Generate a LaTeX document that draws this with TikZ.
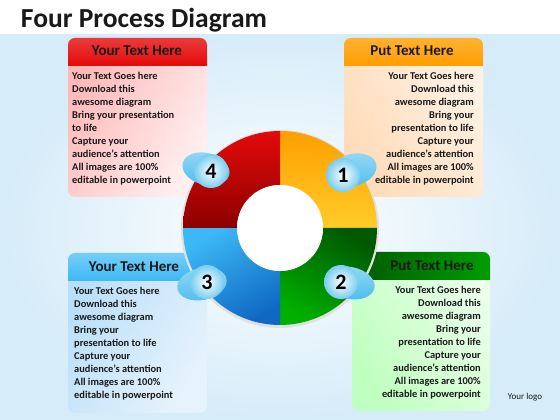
\documentclass[tikz,border=0pt]{standalone}
\usepackage{fontspec}
\setmainfont{Carlito}
\usetikzlibrary{positioning}

\definecolor{bgblue}{RGB}{214,236,249}
\definecolor{redtop}{RGB}{228,10,10}
\definecolor{redbot}{RGB}{140,0,0}
\definecolor{orgtop}{RGB}{255,158,0}
\definecolor{orgbot}{RGB}{255,204,40}
\definecolor{grntop}{RGB}{0,88,0}
\definecolor{grnbot}{RGB}{0,175,0}
\definecolor{blutop}{RGB}{60,185,245}
\definecolor{blubot}{RGB}{15,105,195}
\definecolor{blobblue}{RGB}{80,190,238}
\definecolor{badgeblue}{RGB}{120,205,240}
\definecolor{bluebody}{RGB}{185,222,248}
\definecolor{textdark}{RGB}{25,25,25}

\tikzset{
  headtext/.style={font=\fontsize{15}{17}\selectfont\bfseries, text=textdark, inner sep=0pt},
  bodytext/.style={font=\fontsize{10.4}{13}\selectfont\bfseries, text=textdark, inner sep=0pt},
  blob/.style={top color=blobblue!60, bottom color=blobblue},
  badge/.style={circle, minimum size=34pt, inner sep=0pt, shade, inner color=white,
    outer color=badgeblue, font=\fontsize{22}{22}\selectfont\bfseries, text=black},
}

\begin{document}
\begin{tikzpicture}[x=1pt,y=1pt]
    \useasboundingbox (0,0) rectangle (560,420);

    % Background
    \shade[inner color=white, outer color=bgblue] (0,0) rectangle (560,388);
    \fill[white] (0,386) rectangle (560,420);
    \node[font=\fontsize{27.5}{30}\selectfont\bfseries, text=textdark] (title) at (144,400) {Four Process Diagram};
    \node[font=\fontsize{9}{10}\selectfont, text=textdark] (logo) at (525,23) {Your logo};

    % Red box (4)
    \shade[rounded corners=7pt, left color=red!28, right color=red!6, shading angle=60] (68,223) rectangle (207,382);
    \shade[top color=redtop!80, bottom color=redtop] (68,354) [rounded corners=7pt] -- (68,382) -- (207,382) [sharp corners] -- (207,354) -- cycle;
    \node[headtext] (head4) at (137,369) {Your Text Here};
    \node[bodytext, anchor=north west, align=left] (text4) at (72,348)
      {Your Text Goes here\\Download this\\awesome diagram\\Bring your presentation\\to life\\Capture your\\audience’s attention\\All images are 100\%\\editable in powerpoint};

    % Yellow box (1)
    \shade[rounded corners=7pt, left color=orange!10, right color=orange!28, shading angle=-60] (344,223) rectangle (483,382);
    \shade[top color=orgtop!80!white, bottom color=orgtop] (344,354) [rounded corners=7pt] -- (344,382) -- (483,382) [sharp corners] -- (483,354) -- cycle;
    \node[headtext] (head1) at (412,369) {Put Text Here};
    \node[bodytext, anchor=north east, align=right] (text1) at (474,348)
      {Your Text Goes here\\Download this\\awesome diagram\\Bring your\\presentation to life\\Capture your\\audience’s attention\\All images are 100\%\\editable in powerpoint};

    % Blue box (3)
    \shade[rounded corners=7pt, left color=bluebody, right color=bluebody!35, shading angle=60] (68,7) rectangle (207,167);
    \shade[top color=blutop!70!white, bottom color=blutop] (68,139) [rounded corners=7pt] -- (68,167) -- (207,167) [sharp corners] -- (207,139) -- cycle;
    \node[headtext] (head3) at (134,153) {Your Text Here};
    \node[bodytext, anchor=north west, align=left] (text3) at (74,133)
      {Your Text Goes here\\Download this\\awesome diagram\\Bring your\\presentation to life\\Capture your\\audience’s attention\\All images are 100\%\\editable in powerpoint};

    % Green box (2)
    \shade[rounded corners=7pt, left color=green!8, right color=green!25, shading angle=-60] (352,9) rectangle (490,168);
    \shade[left color=grntop, right color=grnbot!90!black] (352,140) [rounded corners=7pt] -- (352,168) -- (490,168) [sharp corners] -- (490,140) -- cycle;
    \node[headtext] (head2) at (432,154) {Put Text Here};
    \node[bodytext, anchor=north east, align=right] (text2) at (481,134)
      {Your Text Goes here\\Download this\\awesome diagram\\Bring your\\presentation to life\\Capture your\\audience’s attention\\All images are 100\%\\editable in powerpoint};

    % Ring
    \fill[black!12] (280,191) circle (99);
    \shade[top color=orgtop, bottom color=orgbot] (377,192) arc (0:90:97) -- (280,235) arc (90:0:43) -- cycle;
    \shade[top color=grntop, bottom color=grnbot, shading angle=-30] (280,95) arc (270:360:97) -- (323,192) arc (0:-90:43) -- cycle;
    \shade[top color=blutop, bottom color=blubot, shading angle=30] (183,192) arc (180:270:97) -- (280,149) arc (270:180:43) -- cycle;
    \shade[top color=redtop, bottom color=redbot] (280,289) arc (90:180:97) -- (237,192) arc (180:90:43) -- cycle;
    \fill[white] (280,192) circle (43);

    % Badges
    \shade[blob, rotate around={15:(353,250)}] (353,250) ellipse (24 and 16);
    \shade[blob, rotate around={-15:(206,251)}] (206,251) ellipse (24 and 16);
    \shade[blob, rotate around={12:(202,136)}] (202,136) ellipse (25 and 16);
    \shade[blob, rotate around={-12:(350,137)}] (350,137) ellipse (25 and 16);
    \node[badge] (b1) at (343,245) {1};
    \node[badge] (b2) at (341,138) {2};
    \node[badge] (b3) at (207,138) {3};
    \node[badge] (b4) at (211,249) {4};
\end{tikzpicture}
\end{document}
